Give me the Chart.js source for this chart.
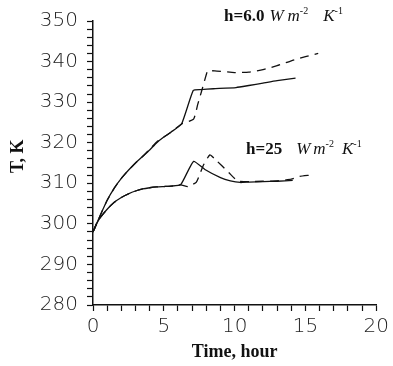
<!DOCTYPE html>
<html>
<head>
<meta charset="utf-8">
<script src="https://cdn.jsdelivr.net/npm/chart.js@4"></script>
<style>
  html, body { margin: 0; padding: 0; background: #fff; }
  #wrap { position: relative; width: 393px; height: 366px; }
  .note { position: absolute; white-space: nowrap; font-family: "Liberation Serif", serif; color: #111; font-size: 17px; line-height: 1; }
  .note b { font-weight: bold; }
  .note i { font-style: italic; }
  .note sup { font-size: 10px; vertical-align: 7px; }
</style>
</head>
<body>
<div id="wrap">
  <canvas id="chart" width="393" height="366"></canvas>
  <div class="note" style="left:224px; top:6px;"><b>h=6.0</b><i style="margin-left:5px">W</i><i style="margin-left:4px">m</i><sup>-2</sup><i style="margin-left:15px">K</i><sup>-1</sup></div>
  <div class="note" style="left:246px; top:139px;"><b>h=25</b><i style="margin-left:14px">W</i><i style="margin-left:3px">m</i><sup>-2</sup><i style="margin-left:8px">K</i><sup>-1</sup></div>
</div>
<script>
// h = 6.0, solid
const timeUpperSolid = [0, 0.25, 0.5, 1, 1.5, 2, 2.5, 3, 3.5, 4, 4.5, 5, 5.5, 6.25, 7.08, 7.6, 8.5, 10.1, 11, 12, 13, 14.3];
const tempUpperSolid = [298, 300, 302, 305.8, 308.8, 311.2, 313.2, 315, 316.6, 318.2, 320, 321.4, 322.6, 324.6, 332.9, 333.1, 333.3, 333.6, 334.1, 334.7, 335.3, 335.9];

// h = 6.0, dashed
const timeUpperDashed = [0, 0.25, 0.5, 1, 1.5, 2, 2.5, 3, 3.5, 4, 4.5, 5, 5.5, 6.25, 7.1, 7.4, 7.65, 8.0, 8.1, 8.6, 10, 11, 12, 13, 14, 15, 15.9];
const tempUpperDashed = [298, 300, 302, 305.8, 308.8, 311.2, 313.2, 315, 316.6, 318.4, 320.2, 321.4, 322.6, 324.6, 325.8, 329.5, 332.5, 336.8, 337.7, 337.7, 337.3, 337.4, 338, 339, 340.2, 341.2, 342];

// h = 25, solid
const timeLowerSolid = [0, 0.25, 0.5, 1, 1.5, 2, 2.5, 3, 3.5, 4, 4.5, 5, 5.5, 6.2, 7.1, 7.9, 9, 9.7, 10.4, 11, 12, 13, 14.1];
const tempLowerSolid = [298, 300, 301.5, 303.6, 305.3, 306.5, 307.4, 308.1, 308.6, 308.9, 309.1, 309.2, 309.3, 309.7, 315.4, 313.4, 311.4, 310.6, 310.2, 310.3, 310.4, 310.5, 310.7];

// h = 25, dashed
const timeLowerDashed = [0, 0.25, 0.5, 1, 1.5, 2, 2.5, 3, 3.5, 4, 4.5, 5, 5.5, 6.2, 6.7, 7.3, 7.8, 8.25, 8.6, 9.6, 10.2, 11, 12, 13, 14, 14.6, 15.3];
const tempLowerDashed = [298, 300, 301.5, 303.6, 305.3, 306.5, 307.4, 308.1, 308.6, 308.9, 309.1, 309.2, 309.3, 309.6, 309.2, 310.3, 314.5, 317, 316, 312.6, 310.6, 310.4, 310.5, 310.6, 311, 311.7, 312];

const xLabels = [0, 5, 10, 15, 20];
const yLabels = [280, 290, 300, 310, 320, 330, 340, 350];

function pts(xs, ys) {
  return xs.map((x, i) => ({ x: x, y: ys[i] }));
}

function series(xs, ys, dashed) {
  return {
    data: pts(xs, ys),
    showLine: true,
    borderColor: '#111',
    borderWidth: 1.3,
    borderDash: dashed ? [9, 6] : [],
    pointRadius: 0,
    tension: 0.15,
    fill: false
  };
}

const tickFont = { family: '"DejaVu Sans", sans-serif', size: 20, weight: 200 };
const titleFont = { family: '"Liberation Serif", serif', size: 18, weight: 'bold' };

new Chart(document.getElementById('chart'), {
  type: 'scatter',
  data: {
    datasets: [
      series(timeUpperSolid, tempUpperSolid, false),
      series(timeUpperDashed, tempUpperDashed, true),
      series(timeLowerSolid, tempLowerSolid, false),
      series(timeLowerDashed, tempLowerDashed, true)
    ]
  },
  options: {
    responsive: false,
    animation: false,
    layout: { padding: { left: 0, right: 12, top: 14, bottom: 0 } },
    plugins: { legend: { display: false }, tooltip: { enabled: false } },
    scales: {
      x: {
        type: 'linear',
        min: 0,
        max: 20,
        afterFit: s => { s.height = 61; },
        border: { color: '#111', width: 1.5 },
        grid: {
          display: true,
          drawOnChartArea: false,
          drawTicks: true,
          tickLength: 6,
          color: '#111',
          tickColor: '#111',
          tickWidth: 1.2
        },
        ticks: {
          stepSize: 1,
          autoSkip: false,
          maxRotation: 0,
          padding: 4,
          color: '#222',
          font: tickFont,
          callback: v => (xLabels.includes(v) ? String(v) : '')
        },
        title: { display: true, text: 'Time, hour', color: '#111', font: titleFont, padding: { top: 0, bottom: 3 } }
      },
      y: {
        min: 280,
        max: 350,
        afterFit: s => { s.width = 93; },
        border: { color: '#111', width: 1.5 },
        grid: {
          display: true,
          drawOnChartArea: false,
          drawTicks: true,
          tickLength: 6,
          color: '#111',
          tickColor: '#111',
          tickWidth: 1.2
        },
        ticks: {
          stepSize: 2,
          autoSkip: false,
          padding: 9,
          color: '#222',
          font: tickFont,
          callback: v => (yLabels.includes(v) ? String(v) : '')
        },
        title: { display: true, text: '   T, K', color: '#111', font: titleFont, padding: { top: 8, bottom: 0 } }
      }
    }
  }
});
</script>
</body>
</html>
